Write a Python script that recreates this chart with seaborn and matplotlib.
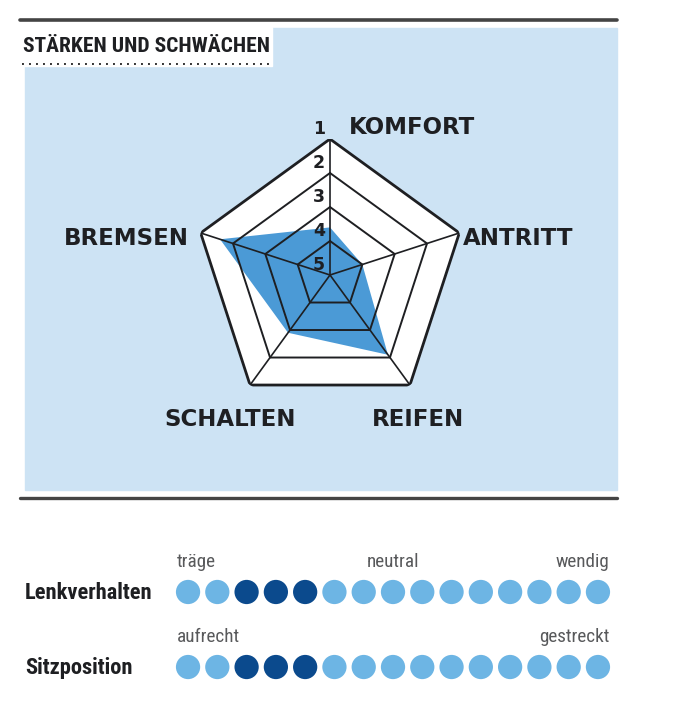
import numpy as np
import pandas as pd
import matplotlib
matplotlib.use("Agg")
import matplotlib.pyplot as plt
from matplotlib import font_manager
import seaborn as sns

# radar data: school grades, 1 = best, 5 = worst
categories = ["KOMFORT", "ANTRITT", "REIFEN", "SCHALTEN", "BREMSEN"]
grades = [3.6, 4.0, 2.1, 2.9, 1.6]
grade_ticks = [1, 2, 3, 4, 5]

# dot scales
rows = ["Lenkverhalten", "Sitzposition"]
n_dots = 15
lenk_marked = [3, 4, 5]
sitz_marked = [3, 4, 5]
lenk_scale = ["träge", "neutral", "wendig"]
sitz_scale = ["aufrecht", "gestreckt"]

W, H = 690, 720
DARK = "#1e1f22"
PANEL = "#cde3f4"
FILL = "#4b9ad6"
DOT_LIGHT = "#6db5e4"
DOT_DARK = "#0b4a8d"
GREY = "#58595b"


def fx(x):
    return x / W


def fy(y):
    return 1 - y / H


sns.set_theme(style="white")
plt.rcParams["font.family"] = ["DejaVu Sans"]

# narrow face for the headline and the scale texts, if one is installed
installed = {f.name for f in font_manager.fontManager.ttflist}
narrow = next((n for n in ["Roboto Condensed", "Liberation Sans Narrow", "Open Sans Condensed",
                           "DejaVu Sans Condensed"] if n in installed), "DejaVu Sans")
narrow_scale = 1.0 if narrow == "DejaVu Sans" else 1.2

fig = plt.figure(figsize=(W / 100, H / 100), dpi=100)
fig.patch.set_facecolor("white")

# frame: rules, blue panel, title box
fig.add_artist(plt.Rectangle((fx(25), fy(490)), fx(617) - fx(25), fy(28) - fy(490),
                             transform=fig.transFigure, color=PANEL, zorder=-5))
fig.add_artist(plt.Rectangle((fx(18), fy(66)), fx(272) - fx(18), fy(27) - fy(66),
                             transform=fig.transFigure, color="white", zorder=-4))
for yy, lw in [(20, 2.6), (498, 2.4)]:
    fig.add_artist(plt.Line2D([fx(20), fx(617)], [fy(yy), fy(yy)], transform=fig.transFigure,
                              color="#444444", lw=lw, zorder=-3))
fig.add_artist(plt.Line2D([fx(22), fx(270)], [fy(64), fy(64)], transform=fig.transFigure,
                          color="#333333", lw=1.4, linestyle=(0, (1, 2.6)), zorder=-3))
fig.text(fx(23), fy(46), "STÄRKEN UND SCHWÄCHEN", ha="left", va="center",
         fontsize=12.9 * narrow_scale, fontweight="bold", family=narrow, color=DARK)

# radar chart
R = 136
cx, cy = 330, 275
ax = fig.add_axes([fx(cx - R), fy(cy + R), 2 * R / W, 2 * R / H], projection="polar")
ax.set_theta_offset(np.pi / 2)
ax.set_theta_direction(-1)
theta = np.linspace(0, 2 * np.pi, len(categories), endpoint=False)
theta_c = np.append(theta, theta[0])
r_max = max(grade_ticks) - min(grade_ticks)
radii = max(grade_ticks) - np.array(grades)

ax.fill(theta_c, [r_max] * len(theta_c), color="white", lw=0, zorder=1)
ax.fill(theta_c, np.append(radii, radii[0]), color=FILL, lw=0, zorder=2)
for g in grade_ticks[:-1]:
    lvl = max(grade_ticks) - g
    ax.plot(theta_c, [lvl] * len(theta_c), color=DARK, lw=2.0 if lvl == r_max else 1.4, zorder=3)
for t in theta:
    ax.plot([t, t], [0, r_max], color=DARK, lw=1.2, zorder=3)
ax.set_ylim(0, r_max)
ax.set_axis_off()

offsets = [(19, 12, "left"), (4, -6, "left"), (8, -34, "center"),
           (-20, -34, "center"), (-12, -6, "right")]
for t, cat, (dx, dy, ha) in zip(theta, categories, offsets):
    ax.annotate(cat, xy=(t, r_max), xytext=(dx, dy), textcoords="offset pixels",
                ha=ha, va="center", fontsize=16.5, fontweight="heavy", color=DARK,
                annotation_clip=False)
for g in grade_ticks:
    ax.annotate(str(g), xy=(0, max(grade_ticks) - g), xytext=(-11, 10), textcoords="offset pixels",
                ha="center", va="center", fontsize=12.5, fontweight="bold", color=DARK,
                annotation_clip=False, zorder=4)

# dot scales
records = []
for i, (name, marked) in enumerate(zip(rows, [lenk_marked, sitz_marked])):
    for p in range(1, n_dots + 1):
        records.append({"row": i, "pos": p, "state": "mark" if p in marked else "base"})
dots = pd.DataFrame(records)

dax = fig.add_axes([fx(173.4), fy(704), (612.6 - 173.4) / W, 149 / H])
sns.scatterplot(data=dots, x="pos", y="row", hue="state",
                palette={"base": DOT_LIGHT, "mark": DOT_DARK},
                s=305, linewidth=0, legend=False, ax=dax)
dax.set_xlim(0.5, n_dots + 0.5)
dax.set_ylim(1.493, -0.493)
dax.set_axis_off()

for i, (name, scale) in enumerate(zip(rows, [lenk_scale, sitz_scale])):
    fig.text(fx(25), fy(593 + 75 * i), name, ha="left", va="center",
             fontsize=13.5 * narrow_scale, fontweight="bold", family=narrow, color=DARK)
    xs = [0.62, n_dots + 0.38] if len(scale) == 2 else [0.62, (n_dots + 1) / 2, n_dots + 0.38]
    has = ["left", "right"] if len(scale) == 2 else ["left", "center", "right"]
    for x, lab, ha in zip(xs, scale, has):
        dax.text(x, i - 0.4, lab, ha=ha, va="center", fontsize=11.5 * narrow_scale,
                 family=narrow, color=GREY, clip_on=False)

fig.savefig("out.png", dpi=100)
